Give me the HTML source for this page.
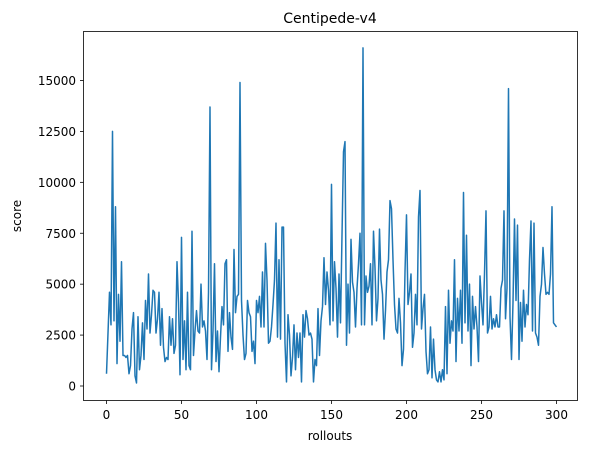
<!DOCTYPE html>
<html><head><meta charset="utf-8"><style>
body{margin:0;background:#fff;font-family:"Liberation Sans","DejaVu Sans",sans-serif}
text{font-family:"DejaVu Sans","Liberation Sans",sans-serif;font-size:12px;fill:#000}
</style></head><body>
<svg id="chart" width="589" height="453" xmlns="http://www.w3.org/2000/svg">
<rect width="589" height="453" fill="#fff"/>
<g id="plot"></g>
<rect x="83.5" y="31.5" width="494" height="369" fill="none" stroke="#000" stroke-width="0.8"/>
<g id="xt"></g><g id="yt"></g>
<text x="330" y="23" text-anchor="middle" font-size="14" style="font-size:14px">Centipede-v4</text>
<text x="330" y="440" text-anchor="middle">rollouts</text>
<text transform="translate(21,216) rotate(-90)" text-anchor="middle">score</text>
</svg>
<script>
const scores=[
600,2600,4600,3000,12500,3200,8800,1100,4500,2200,6100,1500,1500,1400,1500,600,1000,2800,3600,500,
150,3400,800,1500,3100,1300,4200,2800,5500,2600,3500,4700,4600,2600,3300,4600,2000,3800,1900,1200,
1400,1300,3400,2000,3300,1600,2000,6100,4100,550,7300,1300,3200,800,4600,1000,800,7600,1500,2700,
3700,2700,2600,5000,2900,3200,2700,1300,4600,13700,800,2700,6000,1200,2700,700,2400,3900,3000,6000,
6200,1700,3600,2400,1800,6700,3600,4400,4500,14900,4200,2500,1300,1600,4200,3600,3400,1700,2200,1100,
4200,3600,4400,2900,5600,2900,7000,5200,2100,2200,2900,4000,5200,8000,2400,6200,2300,7800,7800,2100,
200,3500,2500,500,1400,3000,800,2600,1400,2600,200,3500,2400,3700,3300,
2500,2600,2300,200,1300,1000,3800,1500,3200,3900,6300,4000,5600,4700,3000,9900,3200,6100,4800,2400,
5500,3100,7400,11500,12000,2000,5000,2600,7200,5100,4600,2900,4800,6000,7500,3000,16600,
3000,5400,4600,4900,6000,3000,
7600,5800,3200,4300,7700,5200,4500,2300,3700,5600,6200,9100,8700,6200,4000,2800,2600,
4300,3100,1000,1800,5600,8400,4000,4600,5500,1900,2600,4500,3000,8300,9600,2800,3800,4500,1700,600,
800,2900,400,2300,800,300,200,700,200,800,300,3900,600,4700,2100,3200,2700,6200,1200,4300,
2700,4700,2100,9500,3100,7400,2700,5000,1000,4400,2800,3900,2900,1200,5400,4100,3000,5500,8600,2600,
2900,4400,2800,3300,2900,3500,2900,2900,4800,5200,8600,3300,4800,14600,3400,1300,4100,8200,4200,7900,
1300,4100,2200,4700,2900,4000,3500,6200,8100,2700,8000,2600,2400,2000,4400,5000,6800,5500,4500,4600,
4500,5500,8800,3100,3000,2900
];
const xTicks=[0,50,100,150,200,250,300];
const yTicks=[0,2500,5000,7500,10000,12500,15000];
const xs=v=>106.5+v*(556.5-106.5)/300;
const ys=v=>386-v*(386-80.5)/15000;
const ns="http://www.w3.org/2000/svg";
const plot=document.getElementById('plot');
const line=document.createElementNS(ns,'polyline');


line.setAttribute('points',scores.map((v,i)=>xs(i*300/(scores.length-1)).toFixed(2)+','+ys(v).toFixed(2)).join(' '));
line.setAttribute('fill','none');line.setAttribute('stroke','#1f77b4');line.setAttribute('stroke-width','1.5');line.setAttribute('stroke-linejoin','round');
plot.appendChild(line);
const xt=document.getElementById('xt');
xTicks.forEach(t=>{
 const l=document.createElementNS(ns,'line');
 
 
 l.setAttribute('x1',xs(t));l.setAttribute('x2',xs(t));l.setAttribute('y1',400.5);l.setAttribute('y2',404);l.setAttribute('stroke','#000');l.setAttribute('stroke-width','0.8');
 xt.appendChild(l);
 const tx=document.createElementNS(ns,'text');
 
 
 tx.setAttribute('x',xs(t));tx.setAttribute('y',419);tx.setAttribute('text-anchor','middle');tx.textContent=t;
 xt.appendChild(tx);
});
const yt=document.getElementById('yt');
yTicks.forEach(t=>{
 const l=document.createElementNS(ns,'line');
 
 
 l.setAttribute('x1',80);l.setAttribute('x2',83.5);l.setAttribute('y1',ys(t));l.setAttribute('y2',ys(t));l.setAttribute('stroke','#000');l.setAttribute('stroke-width','0.8');
 yt.appendChild(l);
 const tx=document.createElementNS(ns,'text');
 
 
 tx.setAttribute('x',76);tx.setAttribute('y',ys(t)+4.5);tx.setAttribute('text-anchor','end');tx.textContent=t;
 yt.appendChild(tx);
});
</script>
</body></html>
